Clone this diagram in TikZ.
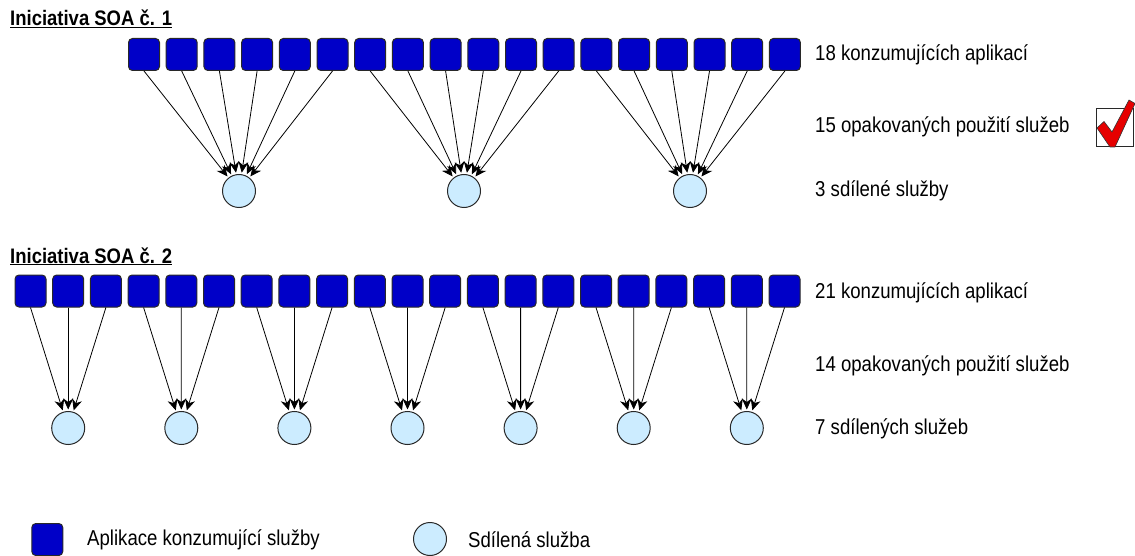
\documentclass[tikz,border=0pt]{standalone}
\usepackage{fontspec}
\setmainfont{Liberation Sans}
\newfontfamily\labelfont[FakeStretch=0.865]{Liberation Sans}
\newfontfamily\headfont[FakeStretch=0.88]{Liberation Sans}
\usetikzlibrary{arrows.meta}

\definecolor{appblue}{RGB}{0,0,200}
\definecolor{svcblue}{RGB}{204,236,255}
\definecolor{edgegray}{RGB}{40,40,40}
\definecolor{checkred}{RGB}{230,0,0}

\tikzset{
  app/.style={draw=edgegray, line width=1pt, fill=appblue, rounded corners=4pt,
    minimum width=31pt, minimum height=32pt, inner sep=0pt},
  svc/.style={draw=edgegray, line width=1pt, fill=svcblue, circle,
    minimum size=33pt, inner sep=0pt},
  use/.style={draw=black, line width=0.8pt, -{Stealth[length=11pt,width=10pt,inset=3.5pt]}, shorten >=1.5pt},
  caption/.style={anchor=west, inner sep=0pt, font=\labelfont\fontsize{21.5}{24}\selectfont},
  heading/.style={anchor=base west, inner sep=0pt, font=\headfont\bfseries\fontsize{21}{23}\selectfont}
}

\begin{document}
\begin{tikzpicture}[x=1pt,y=-1pt]
\useasboundingbox (0,0) rectangle (1135,556);

% --- Initiative 1: 18 consumers, 3 shared services
\node[heading] (h1) at (10,26) {\underline{Iniciativa SOA č. 1}};
\foreach \k in {1,...,18} {
  \node[app] (ra\k) at ({144+37.7*(\k-1)},54.5) {};
}
\node[svc] (sa1) at (239,191) {};
\node[svc] (sa2) at (464,191) {};
\node[svc] (sa3) at (690,191) {};
\foreach \k in {1,...,18} {
  \pgfmathtruncatemacro{\g}{int((\k-1)/6)+1}
  \draw[use] (ra\k.south) -- (sa\g);
}
\node[caption] (ta1) at (815,55) {18 konzumujících aplikací};
\node[caption] (ta2) at (815,127) {15 opakovaných použití služeb};
\node[caption] (ta3) at (815,191) {3 sdílené služby};

% check box with a red tick
\node[draw=edgegray, line width=1pt, minimum width=37pt, minimum height=38pt, inner sep=0pt]
  (check) at (1114.5,127.5) {};
\filldraw[fill=checkred, draw=black!80, line width=0.6pt, line join=round]
  (1097,128) -- (1104,121.5) -- (1112,132) -- (1129,100) -- (1135,103.5)
  -- (1115,147) -- (1110,147) -- cycle;

% --- Initiative 2: 21 consumers, 7 shared services
\node[heading] (h2) at (10,263) {\underline{Iniciativa SOA č. 2}};
\foreach \k in {1,...,21} {
  \node[app] (rb\k) at ({30.5+37.7*(\k-1)},291) {};
}
\foreach \g in {1,...,7} {
  \node[svc] (sb\g) at ({68.2+113.1*(\g-1)},428) {};
}
\foreach \k in {1,...,21} {
  \pgfmathtruncatemacro{\g}{int((\k-1)/3)+1}
  \draw[use] (rb\k.south) -- (sb\g);
}
\node[caption] (tb1) at (815,293) {21 konzumujících aplikací};
\node[caption] (tb2) at (815,366) {14 opakovaných použití služeb};
\node[caption] (tb3) at (815,429) {7 sdílených služeb};

% --- legend
\node[app] (lapp) at (47.3,539.5) {};
\node[caption] (lappt) at (87,540) {Aplikace konzumující služby};
\node[svc] (lsvc) at (430,539) {};
\node[caption] (lsvct) at (468,540) {Sdílená služba};
\end{tikzpicture}
\end{document}
